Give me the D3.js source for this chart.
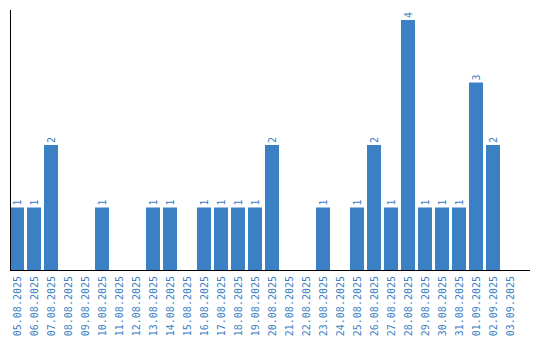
<!DOCTYPE html>
<html>
<head>
<meta charset="utf-8">
<script src="https://cdn.jsdelivr.net/npm/d3@7"></script>
<style>
  body { margin: 0; background: #fff; }
  text { font-family: "DejaVu Sans Mono", monospace; font-size: 10px; fill: #3b7fc4; }
</style>
</head>
<body>
<svg id="chart" width="540" height="340"></svg>
<script>
"use strict";

// data
const dates = [
  "05.08.2025", "06.08.2025", "07.08.2025", "08.08.2025", "09.08.2025",
  "10.08.2025", "11.08.2025", "12.08.2025", "13.08.2025", "14.08.2025",
  "15.08.2025", "16.08.2025", "17.08.2025", "18.08.2025", "19.08.2025",
  "20.08.2025", "21.08.2025", "22.08.2025", "23.08.2025", "24.08.2025",
  "25.08.2025", "26.08.2025", "27.08.2025", "28.08.2025", "29.08.2025",
  "30.08.2025", "31.08.2025", "01.09.2025", "02.09.2025", "03.09.2025"
];
const counts = [
  1, 1, 2, 0, 0,
  1, 0, 0, 1, 1,
  0, 1, 1, 1, 1,
  2, 0, 0, 1, 0,
  1, 2, 1, 4, 1,
  1, 1, 3, 2, 0
];

const barColor = "#3b7fc4";

var svg = d3.select("#chart");
var plot = { left: 10, right: 530, top: 10, bottom: 270 };

var x = d3.scaleBand()
  .domain(dates)
  .range([plot.left, plot.right])
  .paddingInner(3 / 17)
  .paddingOuter(0.382)
  .align(0);

var y = d3.scaleLinear()
  .domain([0, 4.16])
  .range([plot.bottom, plot.top]);

// only days with at least one entry get a bar
var rows = dates.map((dt, i) => ({ date: dt, value: counts[i] }))
  .filter(d => d.value > 0);

// bars
svg.append("g")
  .selectAll("rect")
  .data(rows)
  .enter()
  .append("rect")
  .attr("x", d => x(d.date))
  .attr("y", d => y(d.value))
  .attr("width", x.bandwidth())
  .attr("height", d => y(0) - y(d.value))
  .attr("fill", barColor);

// value labels
svg.append("g")
  .selectAll("text")
  .data(rows)
  .enter()
  .append("text")
  .attr("transform", d => "translate(" + (x(d.date) + x.bandwidth() / 2 + 3.5) + "," + (y(d.value) - 2) + ") rotate(-90)")
  .text(d => d.value);

// x axis
var xAxis = d3.axisBottom(x).tickSize(0).tickPadding(0);
var gX = svg.append("g")
  .attr("transform", "translate(0," + plot.bottom + ")")
  .call(xAxis);
gX.select(".domain").attr("stroke", "#000").attr("d", "M" + plot.left + ",0.5H" + plot.right);
gX.selectAll("text")
  .attr("font-family", null)
  .attr("font-size", null)
  .attr("fill", null)
  .attr("dy", null)
  .attr("text-anchor", "end")
  .attr("transform", "translate(3.5,6) rotate(-90)")
  .attr("y", 0);

// y axis (line only)
svg.append("line")
  .attr("x1", plot.left + 0.5)
  .attr("x2", plot.left + 0.5)
  .attr("y1", plot.top)
  .attr("y2", plot.bottom)
  .attr("stroke", "#000");
</script>
</body>
</html>
